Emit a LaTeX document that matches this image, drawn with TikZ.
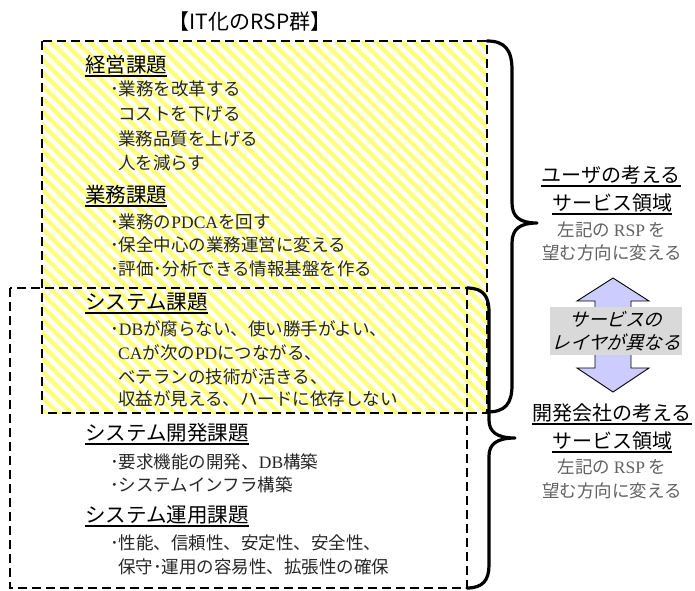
\documentclass[tikz,border=0pt]{standalone}
\usepackage{fontspec}
\setmainfont{Noto Sans CJK JP}
\newfontfamily\jpit[FakeSlant=0.28]{Noto Sans CJK JP}
\newfontfamily\lser{Liberation Serif}
\definecolor{yel}{RGB}{255,255,120}
\definecolor{lav}{RGB}{204,204,255}
\definecolor{lblgray}{RGB}{217,217,217}
\tikzset{
  ttl/.style={font=\fontsize{21}{25}\selectfont, inner sep=0pt},
  head/.style={anchor=west, font=\fontsize{20.5}{24}\selectfont, inner sep=0pt},
  item/.style={anchor=west, font=\fontsize{17.5}{21}\selectfont, inner sep=0pt, text=black!85},
  rhead/.style={font=\fontsize{20}{24}\selectfont, inner sep=0pt},
  rsub/.style={font=\fontsize{17.5}{21}\selectfont, inner sep=0pt, text=black!62},
  ul/.style={line width=1.8pt},
  dbox/.style={dash pattern=on 9pt off 5pt, line width=1.8pt},
  bracestyle/.style={line width=3.2pt, line cap=round, line join=round},
  stripe/.style={line width=4.4pt, draw=yel},
  dblarrow/.style={fill=lav, draw=black, line width=0.9pt, line join=miter},
  lbl/.style={fill=lblgray, inner sep=0pt, minimum width=132pt, minimum height=48pt, align=center, font=\jpit\fontsize{18.5}{23}\selectfont}
}
\begin{document}
\begin{tikzpicture}[x=1pt,y=-1pt]
\useasboundingbox (0,0) rectangle (695,590);
% hatched region
\begin{scope}
  \clip (42,41) rectangle (487,413);
  \foreach \i in {-340,-327,...,495} \draw[stripe] (\i,41) -- ++(380,380);
\end{scope}
% dashed boxes
\draw[dbox] (42,41) rectangle (487,413);
\draw[dbox] (10,288) rectangle (467,588);

% title
\node[ttl] (title) at (250,22) {【IT化のRSP群】};

% 経営課題
\node[head] (h1) at (85,65) {経営課題};
\draw[ul] ([yshift=-1.5pt]h1.south west) -- ([yshift=-1.5pt]h1.south east);
\node[item] (i11) at (110,89) {･業務を改革する};
\node[item] (i12) at (118,114) {コストを下げる};
\node[item] (i13) at (118,139) {業務品質を上げる};
\node[item] (i14) at (118,163) {人を減らす};

% 業務課題
\node[head] (h2) at (85,195) {業務課題};
\draw[ul] ([yshift=-1.5pt]h2.south west) -- ([yshift=-1.5pt]h2.south east);
\node[item] (i21) at (110,222) {･業務の{\lser PDCA}を回す};
\node[item] (i22) at (110,245) {･保全中心の業務運営に変える};
\node[item] (i23) at (110,269) {･評価･分析できる情報基盤を作る};

% システム課題
\node[head] (h3) at (85,302) {システム課題};
\draw[ul] ([yshift=-1.5pt]h3.south west) -- ([yshift=-1.5pt]h3.south east);
\node[item] (i31) at (110,329) {･{\lser DB}が腐らない、使い勝手がよい、};
\node[item] (i32) at (118,353) {{\lser CA}が次の{\lser PD}につながる、};
\node[item] (i33) at (118,377) {ベテランの技術が活きる、};
\node[item] (i34) at (118,399) {収益が見える、ハードに依存しない};

% システム開発課題
\node[head] (h4) at (85,433) {システム開発課題};
\draw[ul] ([yshift=-1.5pt]h4.south west) -- ([yshift=-1.5pt]h4.south east);
\node[item] (i41) at (110,462) {･要求機能の開発、{\lser DB}構築};
\node[item] (i42) at (110,485) {･システムインフラ構築};

% システム運用課題
\node[head] (h5) at (85,515) {システム運用課題};
\draw[ul] ([yshift=-1.5pt]h5.south west) -- ([yshift=-1.5pt]h5.south east);
\node[item] (i51) at (110,543) {･性能、信頼性、安定性、安全性、};
\node[item] (i52) at (118,567) {保守･運用の容易性、拡張性の確保};

% braces
\draw[bracestyle] (487,41) .. controls (505,41) and (512,50) .. (512,70)
  -- (512,203) .. controls (512,217) and (520,223) .. (537,223)
  .. controls (520,223) and (512,229) .. (512,243)
  -- (512,385) .. controls (512,404) and (505,412) .. (487,412);
\draw[bracestyle] (467,288) .. controls (483,288) and (489,296) .. (489,312)
  -- (489,420) .. controls (489,432) and (497,438) .. (515,438)
  .. controls (497,438) and (489,444) .. (489,456)
  -- (489,565) .. controls (489,580) and (483,588) .. (467,588);

% right upper labels
\node[rhead] (u1) at (611,175) {ユーザの考える};
\draw[ul] ([yshift=-1.5pt]u1.south west) -- ([yshift=-1.5pt]u1.south east);
\node[rhead] (u2) at (612,203) {サービス領域};
\draw[ul] ([yshift=-1.5pt]u2.south west) -- ([yshift=-1.5pt]u2.south east);
\node[rsub] (u3) at (612,230) {左記の {\lser RSP} を};
\node[rsub] (u4) at (612,253) {望む方向に変える};

% double arrow
\draw[dblarrow] (613,278) -- (649,301) -- (631,301) -- (631,368) -- (649,368)
  -- (613,392) -- (577,368) -- (595,368) -- (595,301) -- (577,301) -- cycle;
\node[lbl] (lay) at (616,331) {サービスの\\レイヤが異なる};

% right lower labels
\node[rhead] (d1) at (612,413) {開発会社の考える};
\draw[ul] ([yshift=-1.5pt]d1.south west) -- ([yshift=-1.5pt]d1.south east);
\node[rhead] (d2) at (612,441) {サービス領域};
\draw[ul] ([yshift=-1.5pt]d2.south west) -- ([yshift=-1.5pt]d2.south east);
\node[rsub] (d3) at (612,467) {左記の {\lser RSP} を};
\node[rsub] (d4) at (612,491) {望む方向に変える};
\end{tikzpicture}
\end{document}
